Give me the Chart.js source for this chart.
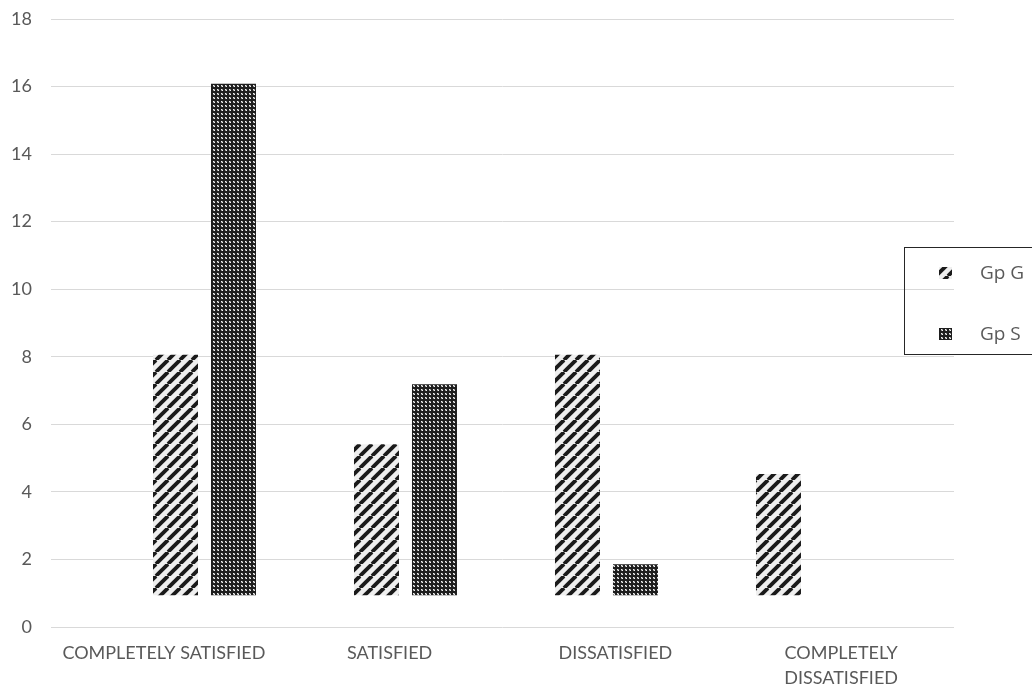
<!DOCTYPE html>
<html>
<head>
<meta charset="utf-8">
<script src="https://cdn.jsdelivr.net/npm/chart.js@4.4.1/dist/chart.umd.min.js"></script>
<style>
  html, body { margin: 0; padding: 0; background: #fff; overflow: hidden; }
  #wrap { width: 1032px; height: 689px; position: relative; }
</style>
</head>
<body>
<div id="wrap"><canvas id="satChart"></canvas></div>
<script>
const categories = ['COMPLETELY SATISFIED', 'SATISFIED', 'DISSATISFIED', ['COMPLETELY', 'DISSATISFIED']];
const seriesNames = ['Gp G', 'Gp S'];
const gpG = [8.06, 5.41, 8.06, 4.53];
const gpS = [16.08, 7.19, 1.86, null];
const barBase = 0.94; // bars in the original float a little above zero
const yTicks = [0, 2, 4, 6, 8, 10, 12, 14, 16, 18];

// fill patterns
function hatchPattern() {
    const c = document.createElement('canvas');
    c.width = 12; c.height = 12;
    const g = c.getContext('2d');
    g.fillStyle = '#efefef';
    g.fillRect(0, 0, 12, 12);
    g.strokeStyle = '#1a1a1a';
    g.lineWidth = 3.8;
    for (const k of [-12, 0, 12]) {
        g.beginPath();
        g.moveTo(k, 12);
        g.lineTo(k + 12, 0);
        g.stroke();
    }
    return g.createPattern(c, 'repeat');
}

function dotPattern() {
    const c = document.createElement('canvas');
    c.width = 4; c.height = 4;
    const g = c.getContext('2d');
    g.fillStyle = '#1e1e1e';
    g.fillRect(0, 0, 4, 4);
    g.fillStyle = '#8c8c8c';
    g.fillRect(1, 1, 2, 2);
    g.fillStyle = '#f2f2f2';
    g.fillRect(1, 1, 1, 1);
    g.fillRect(2, 2, 1, 1);
    return g.createPattern(c, 'repeat');
}

const fills = [hatchPattern(), dotPattern()];

const toPoints = arr => arr.map((v, i) => ({ x: i, y: v === null ? null : [barBase, v] }));

const boxLegend = {
    id: 'boxLegend',
    afterDraw(chart) {
        const ctx = chart.ctx;
        ctx.save();
        ctx.strokeStyle = '#262626';
        ctx.lineWidth = 1;
        ctx.strokeRect(904.5, 247.5, 200, 107);
        const rows = [273, 334]; // icon centres
        chart.data.datasets.forEach((ds, i) => {
            ctx.fillStyle = ds.backgroundColor;
            ctx.fillRect(939, rows[i] - 6, 13, 12);
            ctx.fillStyle = '#595959';
            ctx.font = '19px "Open Sans"';
            ctx.textBaseline = 'alphabetic';
            ctx.fillText(ds.label, 980, rows[i] + 5.5);
        });
        ctx.restore();
    }
};

const config = {
    type: 'bar',
    data: {
        labels: categories,
        datasets: [
            { label: seriesNames[0], data: toPoints(gpG), backgroundColor: fills[0], xAxisID: 'xb' },
            { label: seriesNames[1], data: toPoints(gpS), backgroundColor: fills[1], xAxisID: 'xb' }
        ]
    },
    options: {
        responsive: false,
        animation: false,
        layout: { padding: { top: 19, right: 78, left: 0, bottom: 0 } },
        datasets: { bar: { categoryPercentage: 0.577, barPercentage: 0.776 } },
        scales: {
            x: {
                type: 'category',
                offset: true,
                grid: { display: false },
                border: { display: false },
                ticks: {
                    color: '#595959',
                    font: { family: 'Lato', size: 18, lineHeight: 1.39 },
                    padding: 6,
                    maxRotation: 0,
                    autoSkip: false
                },
                afterFit: s => { s.height = 62; }
            },
            xb: {
                type: 'linear',
                display: false,
                offset: false,
                min: -0.7637,
                max: 3.729,
                // one tick per group so the bar ruler spaces groups by one unit
                afterBuildTicks: s => { s.ticks = [0, 1, 2, 3].map(v => ({ value: v })); }
            },
            y: {
                min: 0,
                max: 18,
                afterBuildTicks: s => { s.ticks = yTicks.map(v => ({ value: v })); },
                grid: { color: '#d9d9d9', drawTicks: false },
                border: { display: false },
                ticks: {
                    color: '#595959',
                    font: { family: 'Lato', size: 18 },
                    padding: 19
                },
                afterFit: s => {
                    s.width = 51;
                    s.paddingTop = 0;
                    s.paddingBottom = 0;
                }
            }
        },
        plugins: {
            legend: { display: false },
            tooltip: { enabled: false }
        }
    },
    plugins: [boxLegend]
};

const cv = document.getElementById('satChart');
cv.width = 1032;
cv.height = 689;
const chart = new Chart(cv.getContext('2d'), config);
</script>
</body>
</html>
